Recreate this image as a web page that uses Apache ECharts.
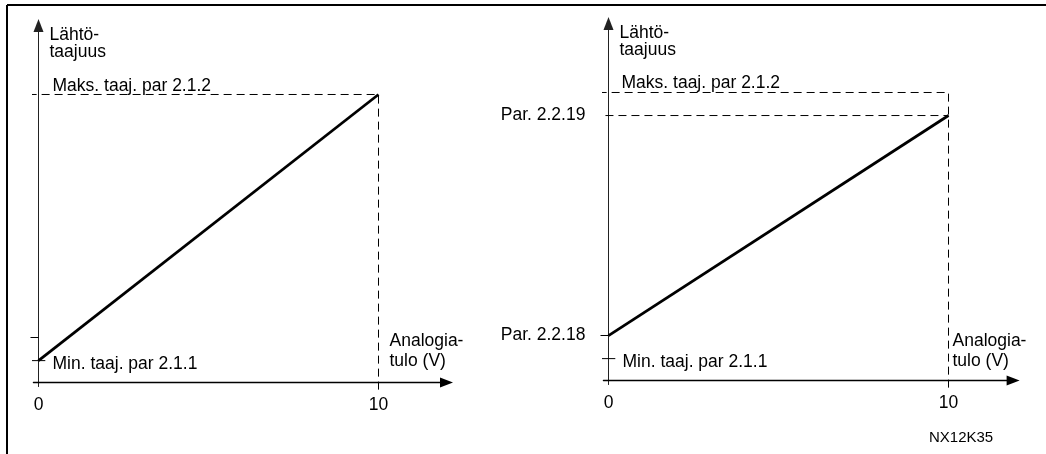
<!DOCTYPE html>
<html>
<head>
<meta charset="utf-8">
<script src="https://cdn.jsdelivr.net/npm/echarts@6/dist/echarts.min.js"></script>
<style>
html,body{margin:0;padding:0;background:#fff;}
#c{width:1046px;height:454px;}
</style>
</head>
<body>
<div id="c"></div>
<script>
// ---------------- data ----------------
const xTickValues = [0, 10];
const xTickLabels = ['0', '10'];
const yAxisTitle = 'Lähtö-\ntaajuus';
const xAxisTitle = 'Analogia-\ntulo (V)';
const minFreq = 7.6;      // Min. taaj. par 2.1.1
const maxFreq = 100;      // Maks. taaj. par 2.1.2
const par2218 = 15.6;     // Par. 2.2.18
const par2219 = 92;       // Par. 2.2.19
const inputMax = 10;      // analog input full scale (V)
const leftCurve = [[0, minFreq], [inputMax, maxFreq]];
const rightCurve = [[0, par2218], [inputMax, par2219]];
const rightYTickValues = [par2218, par2219];
const rightYTickLabels = ['Par. 2.2.18', 'Par. 2.2.19'];
const minLabel = 'Min. taaj. par 2.1.1';
const maxLabel = 'Maks. taaj. par 2.1.2';
const figureCode = 'NX12K35';

// ---------------- styling / layout ----------------
const FONT = "'Liberation Sans', Arial, sans-serif";
const FS = 17.5;
const TXT = '#000';

const panels = [
  {
    grid: {left: 33.4, top: 25.38, width: 413.1, height: 361.15},
    xMin: -0.15, xMax: 12, yMin: -1.4, yMax: 124,
    curve: leftCurve,
    guides: [
      [[-0.29, maxFreq], [inputMax, maxFreq], [inputMax, -3.2]]
    ],
    yTickVals: [par2218],
    yLabelVals: [], yLabelTexts: [],
    xNameOffset: [11, -31.5],
    maxOffset: [14, -8]
  },
  {
    grid: {left: 603.4, top: 23.38, width: 409.7, height: 361.15},
    xMin: -0.15, xMax: 11.9, yMin: -1.4, yMax: 124,
    curve: rightCurve,
    guides: [
      [[-0.29, maxFreq], [inputMax, maxFreq], [inputMax, -3.8]],
      [[-0.09, par2219], [inputMax, par2219]]
    ],
    yTickVals: [par2218],
    yLabelVals: rightYTickValues, yLabelTexts: rightYTickLabels,
    xNameOffset: [4, -29.5],
    maxOffset: [13, -9]
  }
];

const grids = [], xAxes = [], yAxes = [], series = [];

panels.forEach((p, i) => {
  grids.push(p.grid);
  xAxes.push({
    type: 'value', gridIndex: i, min: p.xMin, max: p.xMax,
    splitLine: {show: false},
    axisTick: {show: false},
    axisLine: {show: true, onZero: true, symbol: ['none', 'triangle'], symbolSize: [10, 13],
      lineStyle: {color: '#000', width: 1.3}},
    axisLabel: {
      show: true, customValues: xTickValues, margin: 10.5,
      fontFamily: FONT, fontSize: FS, color: TXT, lineHeight: 17,
      formatter: v => { const k = xTickValues.indexOf(v); return k >= 0 ? xTickLabels[k] : ''; }
    }
  });
  yAxes.push({
    type: 'value', gridIndex: i, min: p.yMin, max: p.yMax,
    splitLine: {show: false},
    axisLine: {show: true, onZero: true, symbol: ['none', 'triangle'], symbolSize: [10, 13],
      lineStyle: {color: '#222', width: 1}},
    axisTick: {show: true, customValues: p.yTickVals, length: 8, lineStyle: {color: '#000', width: 1}},
    axisLabel: {
      show: p.yLabelVals.length > 0, customValues: p.yLabelVals.length ? p.yLabelVals : [0], margin: 18,
      fontFamily: FONT, fontSize: FS, color: TXT,
      formatter: v => { const k = p.yLabelVals.indexOf(v); return k >= 0 ? p.yLabelTexts[k] : ''; }
    },
    name: yAxisTitle, nameLocation: 'end', nameGap: -1.5,
    nameTextStyle: {fontFamily: FONT, fontSize: FS, color: TXT, lineHeight: 17,
      align: 'left', verticalAlign: 'top', padding: [0, 0, 0, 11]}
  });

  // dashed guide lines
  p.guides.forEach(g => {
    series.push({
      type: 'line', xAxisIndex: i, yAxisIndex: i, data: g, symbol: 'none', clip: false, silent: true,
      lineStyle: {color: '#000', width: 1, type: [8, 5]}, z: 1
    });
  });
  // min frequency tick crossing the axis
  series.push({
    type: 'line', xAxisIndex: i, yAxisIndex: i, symbol: 'none', clip: false, silent: true,
    data: [[-0.27, minFreq], [0.2, minFreq]],
    lineStyle: {color: '#000', width: 1}, z: 2
  });
  // main curve
  series.push({
    type: 'line', xAxisIndex: i, yAxisIndex: i, data: p.curve, symbol: 'none', clip: false, silent: true,
    lineStyle: {color: '#000', width: 2.8}, z: 3
  });
  // annotations
  const lab = (text, off, lh) => ({show: true, position: 'right', distance: 0, offset: off,
    formatter: text, fontFamily: FONT, fontSize: FS, color: TXT, lineHeight: lh || 18, opacity: 1,
    align: 'left', verticalAlign: 'middle'});
  series.push({
    type: 'scatter', xAxisIndex: i, yAxisIndex: i, symbolSize: 0, clip: false, silent: true,
    itemStyle: {color: '#000', opacity: 1},
    data: [
      {value: [0, minFreq], label: lab(minLabel, [14, 4])},
      {value: [0, maxFreq], label: lab(maxLabel, p.maxOffset)},
      {value: [inputMax, 0], label: lab(xAxisTitle, p.xNameOffset, 19.5)}
    ], z: 4
  });
});

const chart = echarts.init(document.getElementById('c'), null, {renderer: 'canvas'});
chart.setOption({
  animation: false,
  backgroundColor: '#fff',
  title: {text: figureCode, left: 929, top: 430, padding: 0,
    textStyle: {fontFamily: FONT, fontSize: 15, fontWeight: 'normal', color: TXT}},
  grid: grids, xAxis: xAxes, yAxis: yAxes, series: series,
  graphic: [
    {type: 'line', shape: {x1: 7, y1: 5, x2: 1046, y2: 5}, style: {stroke: '#000', lineWidth: 2}},
    {type: 'line', shape: {x1: 7, y1: 5, x2: 7, y2: 454}, style: {stroke: '#000', lineWidth: 2}}
  ]
});
</script>
</body>
</html>
